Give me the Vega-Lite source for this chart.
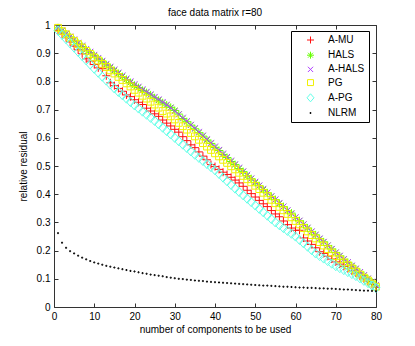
{
"$schema":"https://vega.github.io/schema/vega-lite/v6.json",
"width":322,"height":282,
"autosize":"none",
"padding":{"left":54,"top":25,"right":39,"bottom":39},
"background":"white",
"title":{"text":"face data matrix r=80","fontSize":10,"fontWeight":"normal","font":"Liberation Sans","color":"black","offset":2,"frame":"group"},
"config":{"font":"Liberation Sans","view":{"stroke":"#333","strokeWidth":1},
"axis":{"grid":false,"domain":false,"labelFlush":false,"labelOverlap":false,"labelFontSize":10,"labelFont":"Liberation Sans","labelColor":"black","titleFontSize":10,"titleFont":"Liberation Sans","titleFontWeight":"normal","titleColor":"black","tickColor":"#333","tickSize":-4,"labelPadding":8}},
"datasets":{"d":[
{"s":"A-MU","x":1,"y":0.980},{"s":"A-MU","x":2,"y":0.968},{"s":"A-MU","x":3,"y":0.955},{"s":"A-MU","x":4,"y":0.940},{"s":"A-MU","x":5,"y":0.925},{"s":"A-MU","x":6,"y":0.912},{"s":"A-MU","x":7,"y":0.898},{"s":"A-MU","x":8,"y":0.880},{"s":"A-MU","x":9,"y":0.872},{"s":"A-MU","x":10,"y":0.860},
{"s":"A-MU","x":11,"y":0.848},{"s":"A-MU","x":12,"y":0.845},{"s":"A-MU","x":13,"y":0.820},{"s":"A-MU","x":14,"y":0.795},{"s":"A-MU","x":15,"y":0.785},{"s":"A-MU","x":16,"y":0.775},{"s":"A-MU","x":17,"y":0.765},{"s":"A-MU","x":18,"y":0.752},{"s":"A-MU","x":19,"y":0.746},{"s":"A-MU","x":20,"y":0.735},
{"s":"A-MU","x":21,"y":0.726},{"s":"A-MU","x":22,"y":0.718},{"s":"A-MU","x":23,"y":0.705},{"s":"A-MU","x":24,"y":0.695},{"s":"A-MU","x":25,"y":0.685},{"s":"A-MU","x":26,"y":0.676},{"s":"A-MU","x":27,"y":0.663},{"s":"A-MU","x":28,"y":0.652},{"s":"A-MU","x":29,"y":0.642},{"s":"A-MU","x":30,"y":0.630},
{"s":"A-MU","x":31,"y":0.620},{"s":"A-MU","x":32,"y":0.604},{"s":"A-MU","x":33,"y":0.590},{"s":"A-MU","x":34,"y":0.575},{"s":"A-MU","x":35,"y":0.565},{"s":"A-MU","x":36,"y":0.550},{"s":"A-MU","x":37,"y":0.535},{"s":"A-MU","x":38,"y":0.522},{"s":"A-MU","x":39,"y":0.505},{"s":"A-MU","x":40,"y":0.498},
{"s":"A-MU","x":41,"y":0.488},{"s":"A-MU","x":42,"y":0.478},{"s":"A-MU","x":43,"y":0.470},{"s":"A-MU","x":44,"y":0.460},{"s":"A-MU","x":45,"y":0.450},{"s":"A-MU","x":46,"y":0.440},{"s":"A-MU","x":47,"y":0.428},{"s":"A-MU","x":48,"y":0.414},{"s":"A-MU","x":49,"y":0.402},{"s":"A-MU","x":50,"y":0.390},
{"s":"A-MU","x":51,"y":0.378},{"s":"A-MU","x":52,"y":0.366},{"s":"A-MU","x":53,"y":0.356},{"s":"A-MU","x":54,"y":0.342},{"s":"A-MU","x":55,"y":0.330},{"s":"A-MU","x":56,"y":0.320},{"s":"A-MU","x":57,"y":0.305},{"s":"A-MU","x":58,"y":0.292},{"s":"A-MU","x":59,"y":0.280},{"s":"A-MU","x":60,"y":0.272},
{"s":"A-MU","x":61,"y":0.272},{"s":"A-MU","x":62,"y":0.245},{"s":"A-MU","x":63,"y":0.234},{"s":"A-MU","x":64,"y":0.222},{"s":"A-MU","x":65,"y":0.210},{"s":"A-MU","x":66,"y":0.196},{"s":"A-MU","x":67,"y":0.190},{"s":"A-MU","x":68,"y":0.180},{"s":"A-MU","x":69,"y":0.170},{"s":"A-MU","x":70,"y":0.160},
{"s":"A-MU","x":71,"y":0.152},{"s":"A-MU","x":72,"y":0.144},{"s":"A-MU","x":73,"y":0.136},{"s":"A-MU","x":74,"y":0.128},{"s":"A-MU","x":75,"y":0.120},{"s":"A-MU","x":76,"y":0.110},{"s":"A-MU","x":77,"y":0.100},{"s":"A-MU","x":78,"y":0.090},{"s":"A-MU","x":79,"y":0.080},{"s":"A-MU","x":80,"y":0.070},
{"s":"HALS","x":1,"y":0.990},{"s":"HALS","x":2,"y":0.979},{"s":"HALS","x":3,"y":0.968},{"s":"HALS","x":4,"y":0.958},{"s":"HALS","x":5,"y":0.946},{"s":"HALS","x":6,"y":0.935},{"s":"HALS","x":7,"y":0.924},{"s":"HALS","x":8,"y":0.912},{"s":"HALS","x":9,"y":0.902},{"s":"HALS","x":10,"y":0.891},
{"s":"HALS","x":11,"y":0.880},{"s":"HALS","x":12,"y":0.870},{"s":"HALS","x":13,"y":0.859},{"s":"HALS","x":14,"y":0.849},{"s":"HALS","x":15,"y":0.838},{"s":"HALS","x":16,"y":0.828},{"s":"HALS","x":17,"y":0.817},{"s":"HALS","x":18,"y":0.807},{"s":"HALS","x":19,"y":0.796},{"s":"HALS","x":20,"y":0.786},
{"s":"HALS","x":21,"y":0.778},{"s":"HALS","x":22,"y":0.768},{"s":"HALS","x":23,"y":0.760},{"s":"HALS","x":24,"y":0.752},{"s":"HALS","x":25,"y":0.742},{"s":"HALS","x":26,"y":0.733},{"s":"HALS","x":27,"y":0.724},{"s":"HALS","x":28,"y":0.716},{"s":"HALS","x":29,"y":0.708},{"s":"HALS","x":30,"y":0.697},
{"s":"HALS","x":31,"y":0.684},{"s":"HALS","x":32,"y":0.668},{"s":"HALS","x":33,"y":0.657},{"s":"HALS","x":34,"y":0.645},{"s":"HALS","x":35,"y":0.632},{"s":"HALS","x":36,"y":0.618},{"s":"HALS","x":37,"y":0.606},{"s":"HALS","x":38,"y":0.592},{"s":"HALS","x":39,"y":0.580},{"s":"HALS","x":40,"y":0.566},
{"s":"HALS","x":41,"y":0.555},{"s":"HALS","x":42,"y":0.541},{"s":"HALS","x":43,"y":0.530},{"s":"HALS","x":44,"y":0.516},{"s":"HALS","x":45,"y":0.505},{"s":"HALS","x":46,"y":0.491},{"s":"HALS","x":47,"y":0.480},{"s":"HALS","x":48,"y":0.466},{"s":"HALS","x":49,"y":0.455},{"s":"HALS","x":50,"y":0.441},
{"s":"HALS","x":51,"y":0.430},{"s":"HALS","x":52,"y":0.416},{"s":"HALS","x":53,"y":0.405},{"s":"HALS","x":54,"y":0.392},{"s":"HALS","x":55,"y":0.381},{"s":"HALS","x":56,"y":0.367},{"s":"HALS","x":57,"y":0.356},{"s":"HALS","x":58,"y":0.342},{"s":"HALS","x":59,"y":0.333},{"s":"HALS","x":60,"y":0.317},
{"s":"HALS","x":61,"y":0.306},{"s":"HALS","x":62,"y":0.293},{"s":"HALS","x":63,"y":0.280},{"s":"HALS","x":64,"y":0.267},{"s":"HALS","x":65,"y":0.256},{"s":"HALS","x":66,"y":0.242},{"s":"HALS","x":67,"y":0.231},{"s":"HALS","x":68,"y":0.218},{"s":"HALS","x":69,"y":0.206},{"s":"HALS","x":70,"y":0.193},
{"s":"HALS","x":71,"y":0.181},{"s":"HALS","x":72,"y":0.169},{"s":"HALS","x":73,"y":0.158},{"s":"HALS","x":74,"y":0.146},{"s":"HALS","x":75,"y":0.135},{"s":"HALS","x":76,"y":0.123},{"s":"HALS","x":77,"y":0.112},{"s":"HALS","x":78,"y":0.100},{"s":"HALS","x":79,"y":0.089},{"s":"HALS","x":80,"y":0.077},
{"s":"A-HALS","x":1,"y":0.991},{"s":"A-HALS","x":2,"y":0.981},{"s":"A-HALS","x":3,"y":0.970},{"s":"A-HALS","x":4,"y":0.959},{"s":"A-HALS","x":5,"y":0.949},{"s":"A-HALS","x":6,"y":0.937},{"s":"A-HALS","x":7,"y":0.927},{"s":"A-HALS","x":8,"y":0.915},{"s":"A-HALS","x":9,"y":0.905},{"s":"A-HALS","x":10,"y":0.894},
{"s":"A-HALS","x":11,"y":0.883},{"s":"A-HALS","x":12,"y":0.873},{"s":"A-HALS","x":13,"y":0.862},{"s":"A-HALS","x":14,"y":0.852},{"s":"A-HALS","x":15,"y":0.842},{"s":"A-HALS","x":16,"y":0.831},{"s":"A-HALS","x":17,"y":0.821},{"s":"A-HALS","x":18,"y":0.810},{"s":"A-HALS","x":19,"y":0.800},{"s":"A-HALS","x":20,"y":0.790},
{"s":"A-HALS","x":21,"y":0.781},{"s":"A-HALS","x":22,"y":0.772},{"s":"A-HALS","x":23,"y":0.763},{"s":"A-HALS","x":24,"y":0.754},{"s":"A-HALS","x":25,"y":0.745},{"s":"A-HALS","x":26,"y":0.736},{"s":"A-HALS","x":27,"y":0.727},{"s":"A-HALS","x":28,"y":0.717},{"s":"A-HALS","x":29,"y":0.706},{"s":"A-HALS","x":30,"y":0.694},
{"s":"A-HALS","x":31,"y":0.683},{"s":"A-HALS","x":32,"y":0.671},{"s":"A-HALS","x":33,"y":0.659},{"s":"A-HALS","x":34,"y":0.646},{"s":"A-HALS","x":35,"y":0.634},{"s":"A-HALS","x":36,"y":0.621},{"s":"A-HALS","x":37,"y":0.608},{"s":"A-HALS","x":38,"y":0.595},{"s":"A-HALS","x":39,"y":0.582},{"s":"A-HALS","x":40,"y":0.569},
{"s":"A-HALS","x":41,"y":0.557},{"s":"A-HALS","x":42,"y":0.544},{"s":"A-HALS","x":43,"y":0.532},{"s":"A-HALS","x":44,"y":0.519},{"s":"A-HALS","x":45,"y":0.506},{"s":"A-HALS","x":46,"y":0.494},{"s":"A-HALS","x":47,"y":0.481},{"s":"A-HALS","x":48,"y":0.469},{"s":"A-HALS","x":49,"y":0.456},{"s":"A-HALS","x":50,"y":0.444},
{"s":"A-HALS","x":51,"y":0.431},{"s":"A-HALS","x":52,"y":0.419},{"s":"A-HALS","x":53,"y":0.406},{"s":"A-HALS","x":54,"y":0.393},{"s":"A-HALS","x":55,"y":0.381},{"s":"A-HALS","x":56,"y":0.369},{"s":"A-HALS","x":57,"y":0.356},{"s":"A-HALS","x":58,"y":0.343},{"s":"A-HALS","x":59,"y":0.331},{"s":"A-HALS","x":60,"y":0.318},
{"s":"A-HALS","x":61,"y":0.306},{"s":"A-HALS","x":62,"y":0.293},{"s":"A-HALS","x":63,"y":0.281},{"s":"A-HALS","x":64,"y":0.268},{"s":"A-HALS","x":65,"y":0.256},{"s":"A-HALS","x":66,"y":0.243},{"s":"A-HALS","x":67,"y":0.231},{"s":"A-HALS","x":68,"y":0.218},{"s":"A-HALS","x":69,"y":0.206},{"s":"A-HALS","x":70,"y":0.193},
{"s":"A-HALS","x":71,"y":0.182},{"s":"A-HALS","x":72,"y":0.170},{"s":"A-HALS","x":73,"y":0.159},{"s":"A-HALS","x":74,"y":0.147},{"s":"A-HALS","x":75,"y":0.136},{"s":"A-HALS","x":76,"y":0.124},{"s":"A-HALS","x":77,"y":0.113},{"s":"A-HALS","x":78,"y":0.101},{"s":"A-HALS","x":79,"y":0.090},{"s":"A-HALS","x":80,"y":0.078},
{"s":"PG","x":1,"y":0.990},{"s":"PG","x":2,"y":0.978},{"s":"PG","x":3,"y":0.967},{"s":"PG","x":4,"y":0.955},{"s":"PG","x":5,"y":0.943},{"s":"PG","x":6,"y":0.932},{"s":"PG","x":7,"y":0.920},{"s":"PG","x":8,"y":0.908},{"s":"PG","x":9,"y":0.897},{"s":"PG","x":10,"y":0.885},
{"s":"PG","x":11,"y":0.874},{"s":"PG","x":12,"y":0.862},{"s":"PG","x":13,"y":0.851},{"s":"PG","x":14,"y":0.839},{"s":"PG","x":15,"y":0.828},{"s":"PG","x":16,"y":0.816},{"s":"PG","x":17,"y":0.805},{"s":"PG","x":18,"y":0.793},{"s":"PG","x":19,"y":0.782},{"s":"PG","x":20,"y":0.770},
{"s":"PG","x":21,"y":0.760},{"s":"PG","x":22,"y":0.749},{"s":"PG","x":23,"y":0.739},{"s":"PG","x":24,"y":0.728},{"s":"PG","x":25,"y":0.718},{"s":"PG","x":26,"y":0.707},{"s":"PG","x":27,"y":0.695},{"s":"PG","x":28,"y":0.686},{"s":"PG","x":29,"y":0.676},{"s":"PG","x":30,"y":0.665},
{"s":"PG","x":31,"y":0.653},{"s":"PG","x":32,"y":0.641},{"s":"PG","x":33,"y":0.629},{"s":"PG","x":34,"y":0.617},{"s":"PG","x":35,"y":0.605},{"s":"PG","x":36,"y":0.593},{"s":"PG","x":37,"y":0.581},{"s":"PG","x":38,"y":0.569},{"s":"PG","x":39,"y":0.557},{"s":"PG","x":40,"y":0.545},
{"s":"PG","x":41,"y":0.534},{"s":"PG","x":42,"y":0.522},{"s":"PG","x":43,"y":0.511},{"s":"PG","x":44,"y":0.499},{"s":"PG","x":45,"y":0.488},{"s":"PG","x":46,"y":0.476},{"s":"PG","x":47,"y":0.465},{"s":"PG","x":48,"y":0.453},{"s":"PG","x":49,"y":0.442},{"s":"PG","x":50,"y":0.430},
{"s":"PG","x":51,"y":0.418},{"s":"PG","x":52,"y":0.405},{"s":"PG","x":53,"y":0.393},{"s":"PG","x":54,"y":0.380},{"s":"PG","x":55,"y":0.368},{"s":"PG","x":56,"y":0.355},{"s":"PG","x":57,"y":0.343},{"s":"PG","x":58,"y":0.330},{"s":"PG","x":59,"y":0.318},{"s":"PG","x":60,"y":0.305},
{"s":"PG","x":61,"y":0.293},{"s":"PG","x":62,"y":0.280},{"s":"PG","x":63,"y":0.268},{"s":"PG","x":64,"y":0.255},{"s":"PG","x":65,"y":0.243},{"s":"PG","x":66,"y":0.230},{"s":"PG","x":67,"y":0.218},{"s":"PG","x":68,"y":0.205},{"s":"PG","x":69,"y":0.193},{"s":"PG","x":70,"y":0.180},
{"s":"PG","x":71,"y":0.169},{"s":"PG","x":72,"y":0.158},{"s":"PG","x":73,"y":0.148},{"s":"PG","x":74,"y":0.137},{"s":"PG","x":75,"y":0.126},{"s":"PG","x":76,"y":0.115},{"s":"PG","x":77,"y":0.104},{"s":"PG","x":78,"y":0.094},{"s":"PG","x":79,"y":0.083},{"s":"PG","x":80,"y":0.072},
{"s":"A-PG","x":1,"y":0.980},{"s":"A-PG","x":2,"y":0.965},{"s":"A-PG","x":3,"y":0.950},{"s":"A-PG","x":4,"y":0.935},{"s":"A-PG","x":5,"y":0.920},{"s":"A-PG","x":6,"y":0.905},{"s":"A-PG","x":7,"y":0.890},{"s":"A-PG","x":8,"y":0.875},{"s":"A-PG","x":9,"y":0.860},{"s":"A-PG","x":10,"y":0.845},
{"s":"A-PG","x":11,"y":0.831},{"s":"A-PG","x":12,"y":0.817},{"s":"A-PG","x":13,"y":0.803},{"s":"A-PG","x":14,"y":0.789},{"s":"A-PG","x":15,"y":0.775},{"s":"A-PG","x":16,"y":0.763},{"s":"A-PG","x":17,"y":0.751},{"s":"A-PG","x":18,"y":0.739},{"s":"A-PG","x":19,"y":0.727},{"s":"A-PG","x":20,"y":0.715},
{"s":"A-PG","x":21,"y":0.704},{"s":"A-PG","x":22,"y":0.693},{"s":"A-PG","x":23,"y":0.682},{"s":"A-PG","x":24,"y":0.671},{"s":"A-PG","x":25,"y":0.660},{"s":"A-PG","x":26,"y":0.648},{"s":"A-PG","x":27,"y":0.636},{"s":"A-PG","x":28,"y":0.624},{"s":"A-PG","x":29,"y":0.612},{"s":"A-PG","x":30,"y":0.600},
{"s":"A-PG","x":31,"y":0.588},{"s":"A-PG","x":32,"y":0.576},{"s":"A-PG","x":33,"y":0.564},{"s":"A-PG","x":34,"y":0.552},{"s":"A-PG","x":35,"y":0.540},{"s":"A-PG","x":36,"y":0.529},{"s":"A-PG","x":37,"y":0.518},{"s":"A-PG","x":38,"y":0.507},{"s":"A-PG","x":39,"y":0.496},{"s":"A-PG","x":40,"y":0.485},
{"s":"A-PG","x":41,"y":0.472},{"s":"A-PG","x":42,"y":0.459},{"s":"A-PG","x":43,"y":0.446},{"s":"A-PG","x":44,"y":0.433},{"s":"A-PG","x":45,"y":0.420},{"s":"A-PG","x":46,"y":0.408},{"s":"A-PG","x":47,"y":0.396},{"s":"A-PG","x":48,"y":0.384},{"s":"A-PG","x":49,"y":0.372},{"s":"A-PG","x":50,"y":0.360},
{"s":"A-PG","x":51,"y":0.348},{"s":"A-PG","x":52,"y":0.336},{"s":"A-PG","x":53,"y":0.324},{"s":"A-PG","x":54,"y":0.312},{"s":"A-PG","x":55,"y":0.300},{"s":"A-PG","x":56,"y":0.290},{"s":"A-PG","x":57,"y":0.280},{"s":"A-PG","x":58,"y":0.270},{"s":"A-PG","x":59,"y":0.260},{"s":"A-PG","x":60,"y":0.250},
{"s":"A-PG","x":61,"y":0.238},{"s":"A-PG","x":62,"y":0.226},{"s":"A-PG","x":63,"y":0.214},{"s":"A-PG","x":64,"y":0.202},{"s":"A-PG","x":65,"y":0.190},{"s":"A-PG","x":66,"y":0.181},{"s":"A-PG","x":67,"y":0.172},{"s":"A-PG","x":68,"y":0.163},{"s":"A-PG","x":69,"y":0.154},{"s":"A-PG","x":70,"y":0.145},
{"s":"A-PG","x":71,"y":0.138},{"s":"A-PG","x":72,"y":0.131},{"s":"A-PG","x":73,"y":0.124},{"s":"A-PG","x":74,"y":0.117},{"s":"A-PG","x":75,"y":0.110},{"s":"A-PG","x":76,"y":0.102},{"s":"A-PG","x":77,"y":0.093},{"s":"A-PG","x":78,"y":0.085},{"s":"A-PG","x":79,"y":0.076},{"s":"A-PG","x":80,"y":0.068},
{"s":"NLRM","x":1,"y":0.262},{"s":"NLRM","x":2,"y":0.228},{"s":"NLRM","x":3,"y":0.210},{"s":"NLRM","x":4,"y":0.198},{"s":"NLRM","x":5,"y":0.190},{"s":"NLRM","x":6,"y":0.182},{"s":"NLRM","x":7,"y":0.175},{"s":"NLRM","x":8,"y":0.169},{"s":"NLRM","x":9,"y":0.163},{"s":"NLRM","x":10,"y":0.158},
{"s":"NLRM","x":11,"y":0.154},{"s":"NLRM","x":12,"y":0.150},{"s":"NLRM","x":13,"y":0.146},{"s":"NLRM","x":14,"y":0.143},{"s":"NLRM","x":15,"y":0.140},{"s":"NLRM","x":16,"y":0.137},{"s":"NLRM","x":17,"y":0.134},{"s":"NLRM","x":18,"y":0.131},{"s":"NLRM","x":19,"y":0.128},{"s":"NLRM","x":20,"y":0.126},
{"s":"NLRM","x":21,"y":0.123},{"s":"NLRM","x":22,"y":0.120},{"s":"NLRM","x":23,"y":0.118},{"s":"NLRM","x":24,"y":0.115},{"s":"NLRM","x":25,"y":0.113},{"s":"NLRM","x":26,"y":0.111},{"s":"NLRM","x":27,"y":0.109},{"s":"NLRM","x":28,"y":0.106},{"s":"NLRM","x":29,"y":0.104},{"s":"NLRM","x":30,"y":0.102},
{"s":"NLRM","x":31,"y":0.100},{"s":"NLRM","x":32,"y":0.099},{"s":"NLRM","x":33,"y":0.097},{"s":"NLRM","x":34,"y":0.096},{"s":"NLRM","x":35,"y":0.094},{"s":"NLRM","x":36,"y":0.093},{"s":"NLRM","x":37,"y":0.092},{"s":"NLRM","x":38,"y":0.090},{"s":"NLRM","x":39,"y":0.089},{"s":"NLRM","x":40,"y":0.088},
{"s":"NLRM","x":41,"y":0.087},{"s":"NLRM","x":42,"y":0.086},{"s":"NLRM","x":43,"y":0.085},{"s":"NLRM","x":44,"y":0.084},{"s":"NLRM","x":45,"y":0.083},{"s":"NLRM","x":46,"y":0.082},{"s":"NLRM","x":47,"y":0.081},{"s":"NLRM","x":48,"y":0.080},{"s":"NLRM","x":49,"y":0.079},{"s":"NLRM","x":50,"y":0.078},
{"s":"NLRM","x":51,"y":0.077},{"s":"NLRM","x":52,"y":0.076},{"s":"NLRM","x":53,"y":0.076},{"s":"NLRM","x":54,"y":0.075},{"s":"NLRM","x":55,"y":0.074},{"s":"NLRM","x":56,"y":0.073},{"s":"NLRM","x":57,"y":0.072},{"s":"NLRM","x":58,"y":0.072},{"s":"NLRM","x":59,"y":0.071},{"s":"NLRM","x":60,"y":0.070},
{"s":"NLRM","x":61,"y":0.069},{"s":"NLRM","x":62,"y":0.069},{"s":"NLRM","x":63,"y":0.068},{"s":"NLRM","x":64,"y":0.068},{"s":"NLRM","x":65,"y":0.067},{"s":"NLRM","x":66,"y":0.066},{"s":"NLRM","x":67,"y":0.066},{"s":"NLRM","x":68,"y":0.065},{"s":"NLRM","x":69,"y":0.065},{"s":"NLRM","x":70,"y":0.064},
{"s":"NLRM","x":71,"y":0.063},{"s":"NLRM","x":72,"y":0.062},{"s":"NLRM","x":73,"y":0.062},{"s":"NLRM","x":74,"y":0.061},{"s":"NLRM","x":75,"y":0.060},{"s":"NLRM","x":76,"y":0.059},{"s":"NLRM","x":77,"y":0.058},{"s":"NLRM","x":78,"y":0.058},{"s":"NLRM","x":79,"y":0.057},{"s":"NLRM","x":80,"y":0.056}
]},
"data":{"name":"d"},
"layer":[
{"mark":{"type":"point","filled":false,"strokeWidth":1,"size":64,"opacity":1},
"encoding":{
"x":{"field":"x","type":"quantitative","scale":{"domain":[0,80],"nice":false,"zero":true},
"axis":{"orient":"bottom","values":[0,10,20,30,40,50,60,70,80],"title":"number of components to be used","titlePadding":3}},
"y":{"field":"y","type":"quantitative","scale":{"domain":[0,1],"nice":false},
"axis":{"orient":"left","values":[0,0.1,0.2,0.3,0.4,0.5,0.6,0.7,0.8,0.9,1],"format":".1~f","title":"relative residual","titlePadding":8}},
"color":{"field":"s","type":"nominal","scale":{"domain":["A-MU","HALS","A-HALS","PG","A-PG","NLRM"],"range":["#ff1010","#66ff00","#b040ff","#f0f000","#60ffe8","#000000"]},
"legend":{"title":" ","titleOrient":"left","titleFontSize":10,"titlePadding":10.5,"orient":"none","legendX":237,"legendY":6,"strokeColor":"black","fillColor":"white","padding":4,"cornerRadius":0,"labelFontSize":10,"labelFont":"Liberation Sans","labelColor":"black","symbolSize":49,"symbolStrokeWidth":1,"labelOffset":12.5,"rowPadding":3.2}},
"shape":{"field":"s","type":"nominal","scale":{"domain":["A-MU","HALS","A-HALS","PG","A-PG","NLRM"],"range":["M-1,0H1M0,-1V1","M-1,0H1M0,-1V1M-0.7,-0.7L0.7,0.7M-0.7,0.7L0.7,-0.7","M-0.75,-0.75L0.75,0.75M-0.75,0.75L0.75,-0.75","M-0.85,-0.85H0.85V0.85H-0.85Z","M0,-1.15L1,0L0,1.15L-1,0Z","M-0.13,-0.13H0.13V0.13H-0.13Z"]},
"legend":{"title":" ","titleOrient":"left","titleFontSize":10,"titlePadding":10.5,"orient":"none","legendX":237,"legendY":6,"strokeColor":"black","fillColor":"white","padding":4,"cornerRadius":0,"labelFontSize":10,"labelFont":"Liberation Sans","labelColor":"black","symbolSize":49,"symbolStrokeWidth":1,"labelOffset":12.5,"rowPadding":3.2}}
}},
{"mark":{"type":"point","opacity":0},
"encoding":{
"x":{"field":"x","type":"quantitative","scale":{"domain":[0,80],"nice":false},"axis":{"orient":"top","values":[0,10,20,30,40,50,60,70,80],"labels":false,"title":null}},
"y":{"field":"y","type":"quantitative","scale":{"domain":[0,1],"nice":false},"axis":{"orient":"right","values":[0,0.1,0.2,0.3,0.4,0.5,0.6,0.7,0.8,0.9,1],"labels":false,"title":null}}
}}
],
"resolve":{"axis":{"x":"independent","y":"independent"}}
}
